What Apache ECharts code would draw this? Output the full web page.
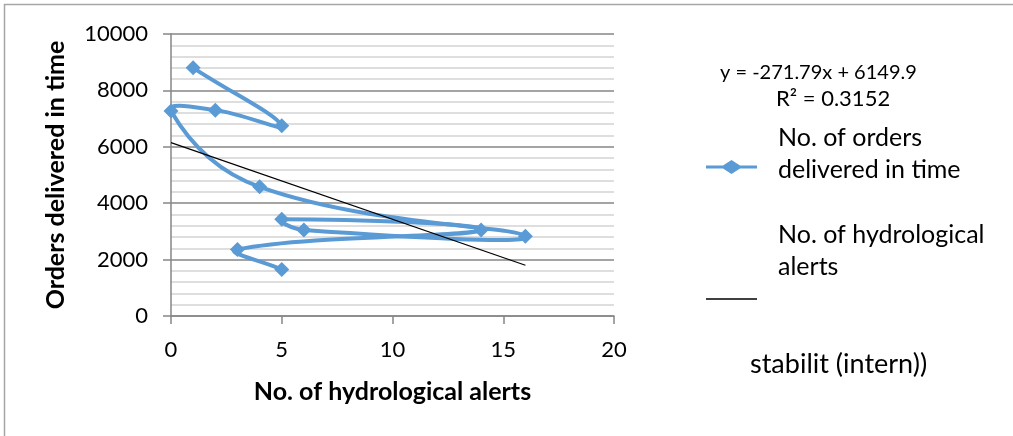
<!DOCTYPE html>
<html>
<head>
<meta charset="utf-8">
<script src="https://cdn.jsdelivr.net/npm/echarts@6/dist/echarts.min.js"></script>
<style>
html,body{margin:0;padding:0;background:#fff;}
#chart{width:1013px;height:436px;}
</style>
</head>
<body>
<div id="chart"></div>
<script>
// Data (order as plotted)
const alerts = [1, 5, 2, 0, 4, 16, 6, 5, 14, 3, 5];
const orders = [8800, 6750, 7300, 7270, 4580, 2830, 3050, 3430, 3050, 2360, 1650];
const trendSlope = -271.79;
const trendIntercept = 6149.9;
const xTicks = [0, 5, 10, 15, 20];
const yTicks = [0, 2000, 4000, 6000, 8000, 10000];

const seriesName = 'No. of orders delivered in time';
const trendName = 'No. of hydrological alerts';

const xMinData = Math.min(...alerts), xMaxData = Math.max(...alerts);
const trendData = [
  [xMinData, trendIntercept + trendSlope * xMinData],
  [xMaxData, trendIntercept + trendSlope * xMaxData]
];

const FONT = 'Lato, "Open Sans", sans-serif';
const BLUE = '#5b9bd5';
const SMOOTH = 0.45;

// Smoothed curve (length-weighted tangents, no clamping) in pixel space via the axis scales
function renderCurve(params, api) {
  const pts = alerts.map((x, i) => api.coord([x, orders[i]]));
  const n = pts.length;
  const dist = (a, b) => Math.hypot(b[0] - a[0], b[1] - a[1]);
  const cpIn = [], cpOut = [];
  for (let i = 0; i < n; i++) {
    const p0 = pts[Math.max(i - 1, 0)], p1 = pts[i], p2 = pts[Math.min(i + 1, n - 1)];
    const tx = p2[0] - p0[0], ty = p2[1] - p0[1];
    const dp = dist(p0, p1), dn = dist(p1, p2), sum = dp + dn || 1;
    cpOut[i] = [p1[0] + tx * SMOOTH * dn / sum, p1[1] + ty * SMOOTH * dn / sum];
    cpIn[i] = [p1[0] - tx * SMOOTH * dp / sum, p1[1] - ty * SMOOTH * dp / sum];
  }
  const children = [];
  for (let i = 0; i < n - 1; i++) {
    children.push({
      type: 'bezierCurve',
      shape: {
        x1: pts[i][0], y1: pts[i][1], x2: pts[i + 1][0], y2: pts[i + 1][1],
        cpx1: cpOut[i][0], cpy1: cpOut[i][1], cpx2: cpIn[i + 1][0], cpy2: cpIn[i + 1][1]
      },
      style: {stroke: BLUE, lineWidth: 4, fill: null, lineCap: 'round', lineJoin: 'round'}
    });
  }
  return {type: 'group', children: children};
}

const legendIconLineDiamond = 'path://M0,5.5 L17,5.5 L25.5,0 L34,5.5 L51,5.5 L51,8.5 L34,8.5 L25.5,14 L17,8.5 L0,8.5 Z';

const chart = echarts.init(document.getElementById('chart'), null, {renderer: 'canvas'});
chart.setOption({
  animation: false,
  backgroundColor: '#fff',
  textStyle: {fontFamily: FONT},
  grid: {left: 171, top: 34, right: 399, bottom: 120, containLabel: false},
  xAxis: {
    type: 'value', min: xTicks[0], max: xTicks[xTicks.length - 1], interval: 5,
    name: 'No. of hydrological alerts', nameLocation: 'middle', nameGap: 63,
    nameTextStyle: {fontFamily: FONT, fontSize: 25, fontWeight: 'bold', color: '#000'},
    axisLine: {show: true, lineStyle: {color: '#868686', width: 1.5}},
    axisTick: {show: true, length: 8, lineStyle: {color: '#868686', width: 1.5}},
    axisLabel: {fontFamily: FONT, fontSize: 22, color: '#000', margin: 23},
    splitLine: {show: false}
  },
  yAxis: {
    type: 'value', min: yTicks[0], max: yTicks[yTicks.length - 1], interval: 2000,
    name: 'Orders delivered in time', nameLocation: 'middle', nameGap: 103, nameRotate: 90,
    nameTextStyle: {fontFamily: FONT, fontSize: 25, fontWeight: 'bold', color: '#000'},
    axisLine: {show: true, lineStyle: {color: '#868686', width: 1.5}},
    axisTick: {show: true, inside: false, length: 8, lineStyle: {color: '#868686', width: 1.5}},
    axisLabel: {fontFamily: FONT, fontSize: 22, color: '#000', margin: 23, formatter: v => String(v)},
    splitLine: {show: true, lineStyle: {color: '#868686', width: 1.5}},
    minorTick: {show: false, splitNumber: 5},
    minorSplitLine: {show: true, lineStyle: {color: '#d4d4d4', width: 1.5}}
  },
  legend: [
    {
      data: [{name: seriesName, icon: legendIconLineDiamond, itemStyle: {color: BLUE}}],
      left: 701, top: 117, orient: 'vertical',
      itemWidth: 51, itemHeight: 14, itemGap: 0,
      formatter: () => '{a|No. of orders}\n{a|delivered in time}\n{b| }',
      textStyle: {
        fontFamily: FONT, fontSize: 25, color: '#000', padding: [0, 0, 0, 16],
        rich: {a: {fontFamily: FONT, fontSize: 25, color: '#000', lineHeight: 32, height: 32}, b: {fontSize: 10, lineHeight: 26, height: 26}}
      }
    },
    {
      data: [{name: trendName, icon: 'rect', itemStyle: {color: '#000'}}],
      left: 701, top: 214, orient: 'vertical',
      itemWidth: 51, itemHeight: 1.5, itemGap: 0,
      formatter: () => '{a|No. of hydrological}\n{a|alerts}\n{b| }',
      textStyle: {
        fontFamily: FONT, fontSize: 25, color: '#000', padding: [0, 0, 0, 16],
        rich: {a: {fontFamily: FONT, fontSize: 25, color: '#000', lineHeight: 32, height: 32}, b: {fontSize: 10, lineHeight: 96, height: 96}}
      }
    }
  ],
  graphic: [
    {type: 'rect', shape: {x: 4.5, y: 4.5, width: 1100, height: 600}, style: {fill: null, stroke: '#a6a6a6', lineWidth: 1.5}, silent: true},
    {type: 'text', left: 720, top: 63, style: {text: 'y = -271.79x + 6149.9', font: '20px ' + FONT, fill: '#000'}},
    {type: 'text', left: 776, top: 88, style: {text: 'R² = 0.3152', font: '22px ' + FONT, fill: '#000'}},
    {type: 'text', left: 750, top: 351, style: {text: 'stabilit (intern))', font: '27px ' + FONT, fill: '#000'}}
  ],
  series: [
    {
      name: seriesName, type: 'custom', renderItem: renderCurve,
      data: [[alerts[0], orders[0]]], encode: {x: 0, y: 1},
      itemStyle: {color: BLUE}, z: 2, clip: false
    },
    {
      name: seriesName, type: 'scatter',
      data: alerts.map((x, i) => [x, orders[i]]),
      symbol: 'diamond', symbolSize: 15,
      itemStyle: {color: BLUE, opacity: 1},
      z: 3
    },
    {
      name: trendName, type: 'line', data: trendData,
      symbol: 'none', lineStyle: {color: '#000', width: 1.2},
      itemStyle: {color: '#000'},
      z: 4
    }
  ]
});
</script>
</body>
</html>
